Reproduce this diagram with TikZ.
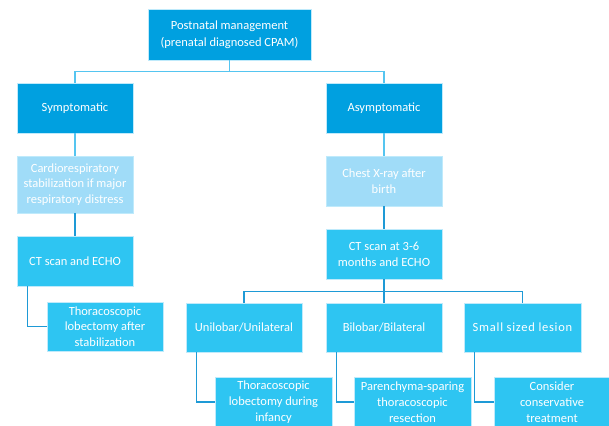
\documentclass[tikz,border=0pt]{standalone}
\usepackage{fontspec}
\setmainfont{Carlito}
\definecolor{dark}{HTML}{00A0E0}
\definecolor{light}{HTML}{A0DCF8}
\definecolor{cyanbox}{HTML}{2EC5F2}
\definecolor{linelight}{HTML}{55C5F0}
\definecolor{linedark}{HTML}{1E9AD6}
\tikzset{
  box/.style={rectangle, inner sep=0pt, align=center, text=white,
    font=\fontsize{12.5}{15.7}\selectfont, draw=white!75!cyan, line width=0.4pt},
  darkbox/.style={box, fill=dark},
  lightbox/.style={box, fill=light},
  cyanb/.style={box, fill=cyanbox},
  conl/.style={draw=linelight, line width=1.3pt},
  cond/.style={draw=linedark, line width=1.3pt},
}
\begin{document}
\begin{tikzpicture}[x=1pt,y=-1pt]
\clip (0,0) rectangle (609,425);
\fill[white] (0,0) rectangle (609,425);
\node[darkbox, minimum width=163, minimum height=51, font=\fontsize{12.5}{17.5}\selectfont] (top) at (229.5,34.5) {Postnatal management\\(prenatal diagnosed CPAM)};
\node[darkbox, minimum width=116, minimum height=50] (sym) at (75,108) {Symptomatic};
\node[darkbox, minimum width=116, minimum height=50] (asym) at (384,108) {Asymptomatic};
\node[lightbox, minimum width=116, minimum height=57] (cardio) at (75,184.5) {Cardiorespiratory\\stabilization if major\\respiratory distress};
\node[cyanb, minimum width=116, minimum height=50] (ctone) at (75,261) {CT scan and ECHO};
\node[cyanb, minimum width=116, minimum height=49] (thorone) at (105,326.5) {Thoracoscopic\\lobectomy after\\stabilization};
\node[lightbox, minimum width=116, minimum height=50] (chest) at (384,181) {Chest X-ray after\\birth};
\node[cyanb, minimum width=116, minimum height=50] (cttwo) at (384,254) {CT scan at 3-6\\months and ECHO};
\node[cyanb, minimum width=116, minimum height=49] (uni) at (244,327.5) {Unilobar/Unilateral};
\node[cyanb, minimum width=116, minimum height=49] (bi) at (384,327.5) {Bilobar/Bilateral};
\node[cyanb, minimum width=117, minimum height=49] (small) at (522.5,327.5) {\addfontfeatures{LetterSpace=6}Small sized lesion};
\node[cyanb, minimum width=117, minimum height=50] (thortwo) at (273.5,402) {Thoracoscopic\\lobectomy during\\infancy};
\node[cyanb, minimum width=117, minimum height=50] (par) at (412.5,402) {Parenchyma-sparing\\thoracoscopic\\resection};
\node[cyanb, minimum width=116, minimum height=50] (cons) at (552,402) {Consider\\conservative\\treatment};
% connectors
\draw[conl] (top.south) -- ++(0,11) -| (sym.north);
\draw[conl] (top.south) -- ++(0,11) -| (asym.north);
\draw[conl] (sym.south) -- (cardio.north);
\draw[cond] (cardio.south) -- (ctone.north);
\draw[cond] ([xshift=11pt]ctone.south west) |- (thorone.west);
\draw[conl] (asym.south) -- (chest.north);
\draw[cond] (chest.south) -- (cttwo.north);
\draw[cond] (cttwo.south) -- ++(0,12) -| (uni.north);
\draw[cond] (cttwo.south) -- (bi.north);
\draw[cond] (cttwo.south) -- ++(0,12) -| (small.north);
\draw[cond] ([xshift=11pt]uni.south west) |- (thortwo.west);
\draw[cond] ([xshift=11pt]bi.south west) |- (par.west);
\draw[cond] ([xshift=11pt]small.south west) |- (cons.west);
\end{tikzpicture}
\end{document}
